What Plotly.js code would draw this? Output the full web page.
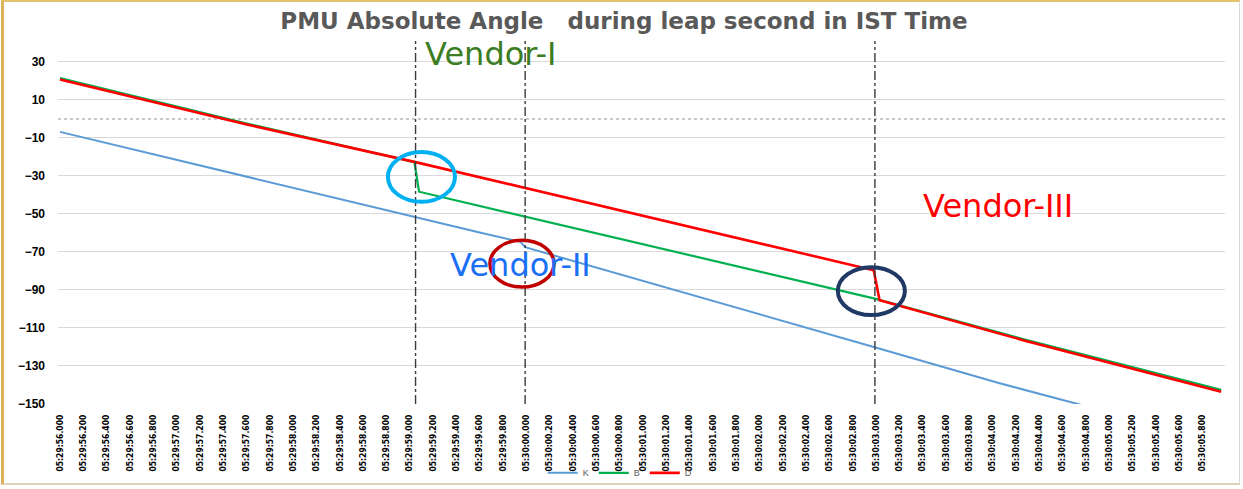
<!DOCTYPE html>
<html>
<head>
<meta charset="utf-8">
<script src="https://cdn.plot.ly/plotly-3.0.1.min.js"></script>
<style>
  html, body { margin: 0; padding: 0; background: #ffffff; }
  #wrap { position: relative; width: 1243px; height: 489px; overflow: hidden; }
  #chart { position: absolute; left: 0; top: 0; width: 1243px; height: 489px; }
  #frame { position: absolute; left: 1px; top: 0px; width: 1239px; height: 485px;
           border-left: 3px solid #d9b25a; border-top: 2px solid #e2c26a;
           border-right: 1px solid #d8d8d8; border-bottom: 2px solid #ddd3b6;
           box-sizing: border-box; pointer-events: none; }
</style>
</head>
<body>
<div id="wrap">
  <div id="chart"></div>
  <div id="frame"></div>
</div>
<script>
// Category tick labels (every 0.2 s, IST)
const tickLabels = [
  "05:29:56.000","05:29:56.200","05:29:56.400","05:29:56.600","05:29:56.800",
  "05:29:57.000","05:29:57.200","05:29:57.400","05:29:57.600","05:29:57.800",
  "05:29:58.000","05:29:58.200","05:29:58.400","05:29:58.600","05:29:58.800",
  "05:29:59.000","05:29:59.200","05:29:59.400","05:29:59.600","05:29:59.800",
  "05:30:00.000","05:30:00.200","05:30:00.400","05:30:00.600","05:30:00.800",
  "05:30:01.000","05:30:01.200","05:30:01.400","05:30:01.600","05:30:01.800",
  "05:30:02.000","05:30:02.200","05:30:02.400","05:30:02.600","05:30:02.800",
  "05:30:03.000","05:30:03.200","05:30:03.400","05:30:03.600","05:30:03.800",
  "05:30:04.000","05:30:04.200","05:30:04.400","05:30:04.600","05:30:04.800",
  "05:30:05.000","05:30:05.200","05:30:05.400","05:30:05.600","05:30:05.800"
];
const tickStep = 0.2; // seconds between labels

// Series: time in seconds after 05:29:56.000, angle in degrees
const kTime  = [0, 3.04, 3.60, 3.95, 3.99, 6.98, 8.06, 8.73, 9.96];
const kAngle = [-6.8, -51.7, -59.8, -64.7, -67.5, -120.0, -139.1, -150.0, -170.0];

const bTime  = [0, 1.63, 3.04, 3.08, 6.98, 8.26, 9.96];
const bAngle = [21.5, -2.8, -22.8, -38.3, -94.4, -115.8, -142.6];

const dTime  = [0, 1.63, 3.04, 6.98, 7.03, 8.26, 9.96];
const dAngle = [20.7, -3.3, -22.6, -79.6, -95.4, -116.4, -143.5];

// Event marker times (vertical dash-dot lines)
const eventTimes = [3.05, 3.99, 6.99];

const traces = [
  { x: kTime, y: kAngle, name: "K", mode: "lines", line: { color: "#5b9bd5", width: 2 } },
  { x: bTime, y: bAngle, name: "B", mode: "lines", line: { color: "#00b050", width: 2.2 } },
  { x: dTime, y: dAngle, name: "D", mode: "lines", line: { color: "#ff0000", width: 2.6 } }
];

const shapes = [];
// zero reference dotted line
shapes.push({ type: "line", xref: "paper", x0: 0, x1: 1, yref: "y", y0: 0, y1: 0,
  line: { color: "#c8c8c8", width: 2, dash: "dot" }, layer: "below" });
eventTimes.forEach(t => shapes.push({
  type: "line", xref: "x", x0: t, x1: t, yref: "paper", y0: 0, y1: 1,
  line: { color: "#3a3a3a", width: 1.4, dash: "dashdot" }
}));
// highlight circles
shapes.push({ type: "circle", xref: "x", yref: "y", x0: 2.813, x1: 3.388, y0: -43.6, y1: -17.4,
  line: { color: "#00b0f0", width: 4 } });
shapes.push({ type: "circle", xref: "x", yref: "y", x0: 3.688, x1: 4.237, y0: -88.5, y1: -63.8,
  line: { color: "#c00000", width: 3.5 } });
shapes.push({ type: "circle", xref: "x", yref: "y", x0: 6.672, x1: 7.247, y0: -103.2, y1: -78.0,
  line: { color: "#1f3864", width: 4 } });

const annFont = "DejaVu Sans, Open Sans, sans-serif";
const annotations = [
  { x: 3.69, y: 34.0, xref: "x", yref: "y", text: "Vendor-I", showarrow: false,
    font: { family: annFont, size: 32, color: "#3b7d23" } },
  { x: 3.95, y: -76.9, xref: "x", yref: "y", text: "Vendor-II", showarrow: false,
    font: { family: annFont, size: 32, color: "#1a6ff5" } },
  { x: 8.05, y: -45.9, xref: "x", yref: "y", text: "Vendor-III", showarrow: false,
    font: { family: annFont, size: 32, color: "#ff0000" } }
];

const layout = {
  width: 1243, height: 489,
  margin: { l: 58, r: 18, t: 41, b: 85, autoexpand: false },
  paper_bgcolor: "rgba(0,0,0,0)", plot_bgcolor: "#ffffff",
  title: { text: "PMU Absolute Angle\u00a0\u00a0 during leap second in IST Time",
    x: 0.485, xref: "paper", y: 0.957, yanchor: "middle",
    font: { family: "DejaVu Sans, Open Sans, sans-serif", size: 23, color: "#595959", weight: "bold" } },
  xaxis: {
    range: [-0.017, 9.993],
    tickmode: "array",
    tickvals: tickLabels.map((_, i) => i * tickStep),
    ticktext: tickLabels,
    tickangle: -90,
    ticks: "", showgrid: false, zeroline: false, showline: false,
    ticklabelstandoff: 8,
    tickfont: { family: "Liberation Sans Narrow, DejaVu Sans Condensed, sans-serif", size: 8.5, color: "#000000", weight: "bold" }
  },
  yaxis: {
    range: [-150, 41],
    tickmode: "linear", tick0: -150, dtick: 20,
    showgrid: true, gridcolor: "#d9d9d9", gridwidth: 1,
    zeroline: false, showline: false, ticks: "",
    ticklabelstandoff: 12,
    tickfont: { family: "Liberation Sans, Arial, sans-serif", size: 12, color: "#000000", weight: "bold" }
  },
  showlegend: true,
  legend: { orientation: "h", xref: "container", yref: "container",
    x: 0.499, xanchor: "center", y: 0.033, yanchor: "middle",
    font: { family: "Liberation Sans, Arial, sans-serif", size: 9, color: "#595959" },
    bgcolor: "rgba(0,0,0,0)", itemwidth: 30 },
  shapes: shapes,
  annotations: annotations
};

Plotly.newPlot("chart", traces, layout, { displayModeBar: false, staticPlot: true });
</script>
</body>
</html>
